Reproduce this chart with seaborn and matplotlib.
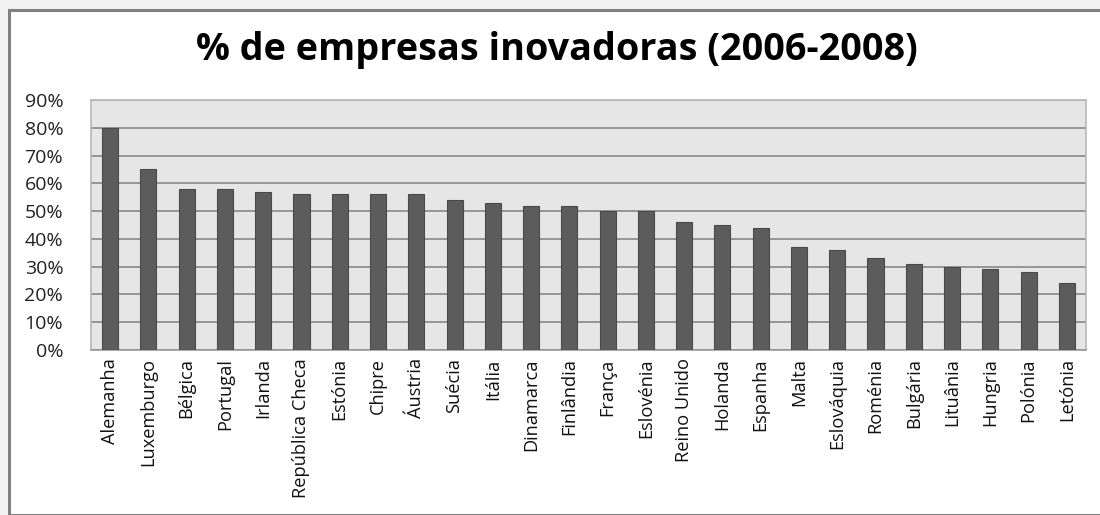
import matplotlib
matplotlib.use("Agg")
import matplotlib.pyplot as plt
import matplotlib.patches as mpatches
import seaborn as sns
import pandas as pd

countries = ["Alemanha", "Luxemburgo", "Bélgica", "Portugal", "Irlanda", "República Checa",
             "Estónia", "Chipre", "Áustria", "Suécia", "Itália", "Dinamarca", "Finlândia",
             "França", "Eslovénia", "Reino Unido", "Holanda", "Espanha", "Malta", "Eslováquia",
             "Roménia", "Bulgária", "Lituânia", "Hungria", "Polónia", "Letónia"]
values = [80, 65, 58, 58, 57, 56, 56, 56, 56, 54, 53, 52, 52, 50, 50, 46, 45, 44, 37, 36,
          33, 31, 30, 29, 28, 24]
yticks = [0, 10, 20, 30, 40, 50, 60, 70, 80, 90]
title = "% de empresas inovadoras (2006-2008)"

sns.set_theme(style="white")
plt.rcParams['font.family'] = ['Open Sans', 'DejaVu Sans']

W, H = 1100, 515
fig = plt.figure(figsize=(W / 100, H / 100), dpi=100)
fig.patch.set_facecolor("#f2f2f2")
fig.patches.append(mpatches.Rectangle((9 / W, 0), 1.2, (H - 10) / H, transform=fig.transFigure,
                                      facecolor="white", edgecolor="#808080", linewidth=2.2,
                                      zorder=-10))

ax = fig.add_axes([91 / W, (H - 350) / H, 995 / W, 250 / H])
ax.set_zorder(5)
df = pd.DataFrame({"country": countries, "value": values})
sns.barplot(data=df, x="country", y="value", color="#5c5c5c", saturation=1, width=0.42,
            edgecolor="#4a4a4a", linewidth=0.8, ax=ax, zorder=3)
ax.set_facecolor("#e6e6e6")
ax.set_ylim(0, 90)
ax.set_xlim(-0.5, len(countries) - 0.5)
ax.set_yticks(yticks)
ax.set_yticklabels([f"{t}%" for t in yticks], fontsize=14, color="#222222")
ax.yaxis.grid(True, color="#8f8f8f", linewidth=1.3, zorder=1)
ax.set_axisbelow(True)
ax.set_xlabel("")
ax.set_ylabel("")
ax.tick_params(axis="y", length=0, pad=20)
ax.tick_params(axis="x", length=0, pad=6)
ax.set_xticks(range(len(countries)))
ax.set_xticklabels(countries, rotation=90, fontsize=11.5, color="#111111")
for s in ax.spines.values():
    s.set_color("#b8b8b8")
    s.set_linewidth(1.2)
ax.spines["bottom"].set_color("#9a9a9a")

t = fig.text(557 / W, 1 - 50 / H, title, ha="center", va="center", fontsize=24,
             fontweight="bold", color="#000000", zorder=6)

# fit title width to reference (~722 px)
fig.canvas.draw()
r = fig.canvas.get_renderer()
w = t.get_window_extent(r).width
t.set_fontsize(24 * 722 / w)

# fit x labels: "República Checa" ~ 140 px
lbl = [l for l in ax.get_xticklabels() if l.get_text() == "República Checa"][0]
h = lbl.get_window_extent(r).height
fs = 11.5 * 140 / h
for l in ax.get_xticklabels():
    l.set_fontsize(fs)

fig.savefig("out.png", dpi=100, facecolor=fig.get_facecolor())
